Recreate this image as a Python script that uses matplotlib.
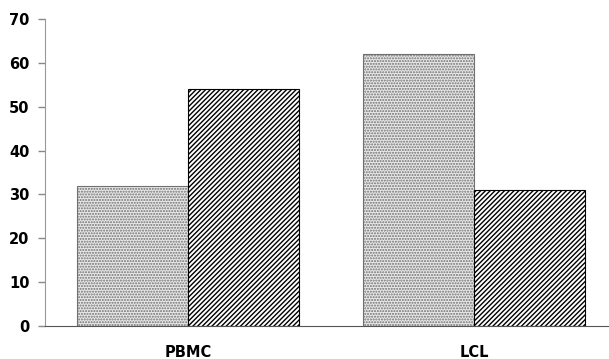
import matplotlib.pyplot as plt
import numpy as np

categories = ['PBMC', 'LCL']
series_a = [32, 62]
series_b = [54, 31]
yticks = [0, 10, 20, 30, 40, 50, 60, 70]

plt.rcParams['font.family'] = ['DejaVu Sans']
plt.rcParams['hatch.linewidth'] = 1.0

fig = plt.figure(figsize=(6.09, 3.59), dpi=100)
ax = fig.add_axes([45 / 609, 1 - 326 / 359, 1 - 45 / 609, (326 - 19) / 359])

x = np.arange(len(categories))
w = 0.388

# dotted bars
ax.bar(x - w / 2, series_a, w, facecolor='#e9e9e9', edgecolor='#707070',
       hatch='......', linewidth=0.8)
# striped bars
ax.bar(x + w / 2, series_b, w, facecolor='white', edgecolor='black',
       hatch='///////', linewidth=0.8)

ax.set_xlim(-0.5, 1.472)
ax.set_ylim(0, 70)
ax.set_yticks(yticks)
ax.set_xticks(x)
ax.set_xticklabels(categories, fontsize=10.5, fontweight='bold')
ax.tick_params(axis='x', length=0, pad=14)
ax.tick_params(axis='y', length=5, width=1, color='#888888', labelsize=10.5, pad=6)
for lbl in ax.get_yticklabels():
    lbl.set_fontweight('bold')

ax.spines['top'].set_visible(False)
ax.spines['right'].set_visible(False)
ax.spines['left'].set_color('#999999')
ax.spines['bottom'].set_color('#555555')

fig.savefig('out.png', dpi=100)
